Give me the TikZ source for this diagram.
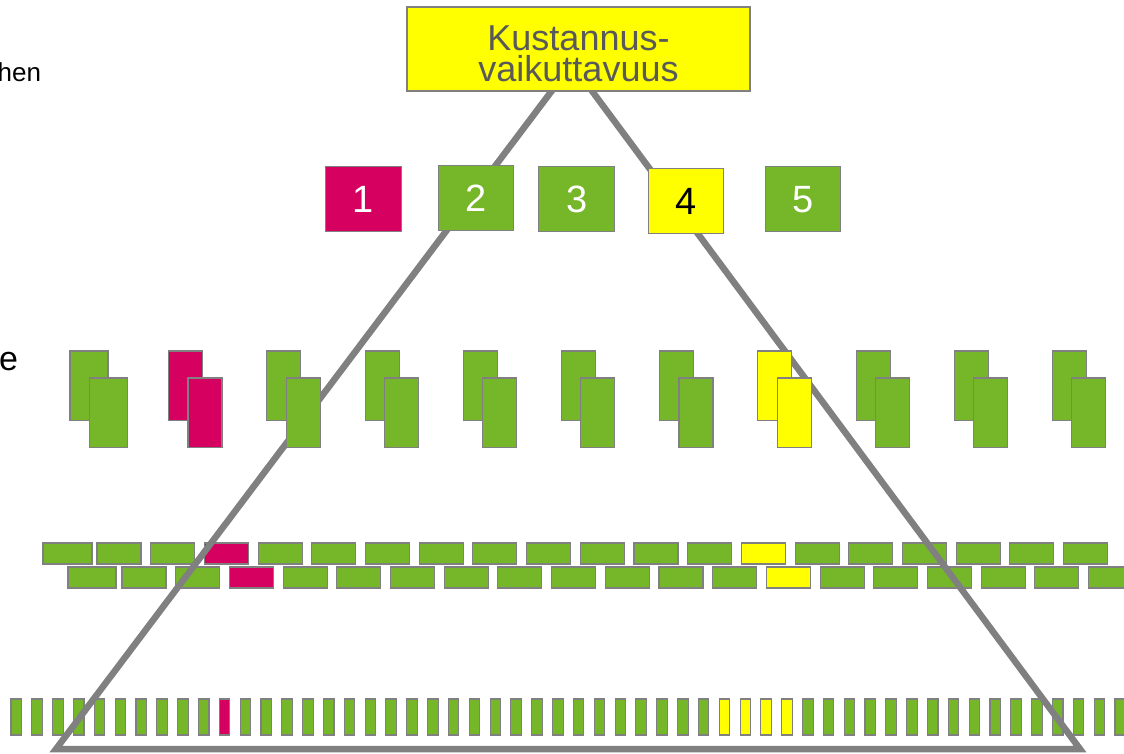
\documentclass[tikz,border=0pt]{standalone}
\usepackage{fontspec}
\setmainfont{Liberation Sans}
\definecolor{pgreen}{RGB}{118,183,42}
\definecolor{pmag}{RGB}{214,0,96}
\definecolor{pyel}{RGB}{255,255,0}
\definecolor{edgegray}{RGB}{128,128,128}
\definecolor{trigray}{RGB}{128,128,128}
\definecolor{textgray}{RGB}{89,89,89}
\begin{document}
\begin{tikzpicture}[x=1pt,y=-1pt,
  box/.style={draw=edgegray, line width=1.1pt, inner sep=0pt, outer sep=0pt, anchor=north west},
  numbox/.style={box, minimum width=75.5pt, minimum height=65pt, font=\fontsize{38}{40}\selectfont, text=white},
  tri/.style={draw=trigray, line width=6.5pt, line join=miter},
  lefttext/.style={anchor=base east, inner sep=0pt, outer sep=0pt, text=black}]
\useasboundingbox (0,0) rectangle (1124,753);
\begin{scope}
\clip (0,0) rectangle (1124,753);
% left text fragments
\node[lefttext, font=\fontsize{26}{30}\selectfont] (hen) at (41,81.7) {hen};
\node[lefttext, font=\fontsize{34}{38}\selectfont] (ee) at (18,370) {e};
% brick rows
\node[box, fill=pgreen, minimum width=49pt, minimum height=21pt] (ba) at (43,543) {};
\foreach \k in {0,...,18}{
  \def\c{pgreen}\ifnum\k=2 \def\c{pmag}\fi\ifnum\k=12 \def\c{pyel}\fi
  \node[box, fill=\c, minimum width=44pt, minimum height=21pt] (ba\k) at ({97+53.7*\k},543) {};
}
\node[box, fill=pgreen, minimum width=48pt, minimum height=21pt] (bb) at (68,567) {};
\foreach \k in {0,...,18}{
  \def\c{pgreen}\ifnum\k=2 \def\c{pmag}\fi\ifnum\k=12 \def\c{pyel}\fi
  \node[box, fill=\c, minimum width=44pt, minimum height=21pt] (bb\k) at ({122+53.7*\k},567) {};
}
% bottom bars
\foreach \k in {0,...,53}{
  \def\c{pgreen}\ifnum\k=10 \def\c{pmag}\fi
  \ifnum\k>33 \ifnum\k<38 \def\c{pyel}\fi\fi
  \node[box, fill=\c, minimum width=10.5pt, minimum height=36pt] (bar\k) at ({11+20.83*\k},699) {};
}
% triangle
\coordinate (apex) at (572,64);
\coordinate (bl) at (56,749);
\coordinate (br) at (1080,749);
\draw[tri] (apex) -- (bl) -- (br) -- cycle;
% pairs
\node[box, fill=pgreen, minimum width=38pt, minimum height=69.7pt] (pa0) at (70,351) {};
\node[box, fill=pgreen, minimum width=38.4pt, minimum height=69.7pt] (pf0) at (89.3,378) {};
\foreach \k in {1,...,10}{
  \def\c{pgreen}\ifnum\k=1 \def\c{pmag}\fi\ifnum\k=7 \def\c{pyel}\fi
  \node[box, fill=\c, minimum width=34pt, minimum height=69.7pt] (pa\k) at ({168.7+98.2*(\k-1)},351) {};
  \node[box, fill=\c, minimum width=34pt, minimum height=69.7pt] (pf\k) at ({188+98.2*(\k-1)},378) {};
}
% numbered boxes
\node[numbox, fill=pmag] (n1) at (325.7,166.8) {1};
\node[numbox, fill=pgreen] (n2) at (438.2,165.4) {2};
\node[numbox, fill=pgreen] (n3) at (538.9,166.8) {3};
\node[numbox, fill=pyel, text=black] (n4) at (648.2,168.6) {4};
\node[numbox, fill=pgreen] (n5) at (765.4,166.8) {5};
% top box
\node[box, fill=pyel, minimum width=343pt, minimum height=84pt] (top) at (407,7) {};
\node[anchor=base, inner sep=0pt, text=textgray, font=\fontsize{36}{32}\selectfont] (t1) at (578.5,50) {Kustannus-};
\node[anchor=base, inner sep=0pt, text=textgray, font=\fontsize{36}{32}\selectfont] (t2) at (578.5,81.7) {vaikuttavuus};
\end{scope}
\end{tikzpicture}
\end{document}
